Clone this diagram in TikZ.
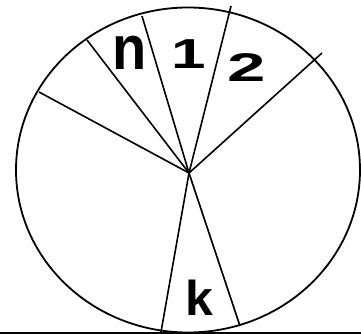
\documentclass[tikz,border=0pt]{standalone}
\usepackage{fontspec}
\setmainfont{Liberation Sans}
\begin{document}
\begin{tikzpicture}[x=1pt,y=-1pt,
  rim/.style={line width=1.8pt},
  spoke/.style={line width=1.6pt},
  base/.style={line width=2pt},
  lbl/.style={inner sep=0pt, font=\bfseries\fontsize{10}{10}\selectfont}]
\useasboundingbox (0,0) rectangle (361,334);
\draw[rim] (188,170) ellipse [x radius=172, y radius=162.5];
\coordinate (O) at (189,173);
\coordinate (p1) at (39,92);
\coordinate (p2) at (87,40);
\coordinate (p3) at (142,16);
\coordinate (p4) at (231,6);
\coordinate (p5) at (322,53);
\coordinate (p6) at (161,332);
\coordinate (p7) at (240,326);
\foreach \p in {p1,p2,p3,p4,p5,p6,p7} \draw[spoke] (O) -- (\p);
\coordinate (L1) at (0,332.5);
\coordinate (L2) at (361,332.5);
\draw[base] (L1) -- (L2);
\node[lbl] (n) at (129.5,53) {\scalebox{5.6}[6.2]{n}};
\node[lbl] (one) at (189,54) {\scalebox{6.2}[4.19]{1}};
\node[lbl] (two) at (246.5,67.5) {\scalebox{6.9}[4.0]{2}};
\node[lbl] (k) at (199.5,297.5) {\scalebox{5.0}[4.9]{k}};
\end{tikzpicture}
\end{document}
